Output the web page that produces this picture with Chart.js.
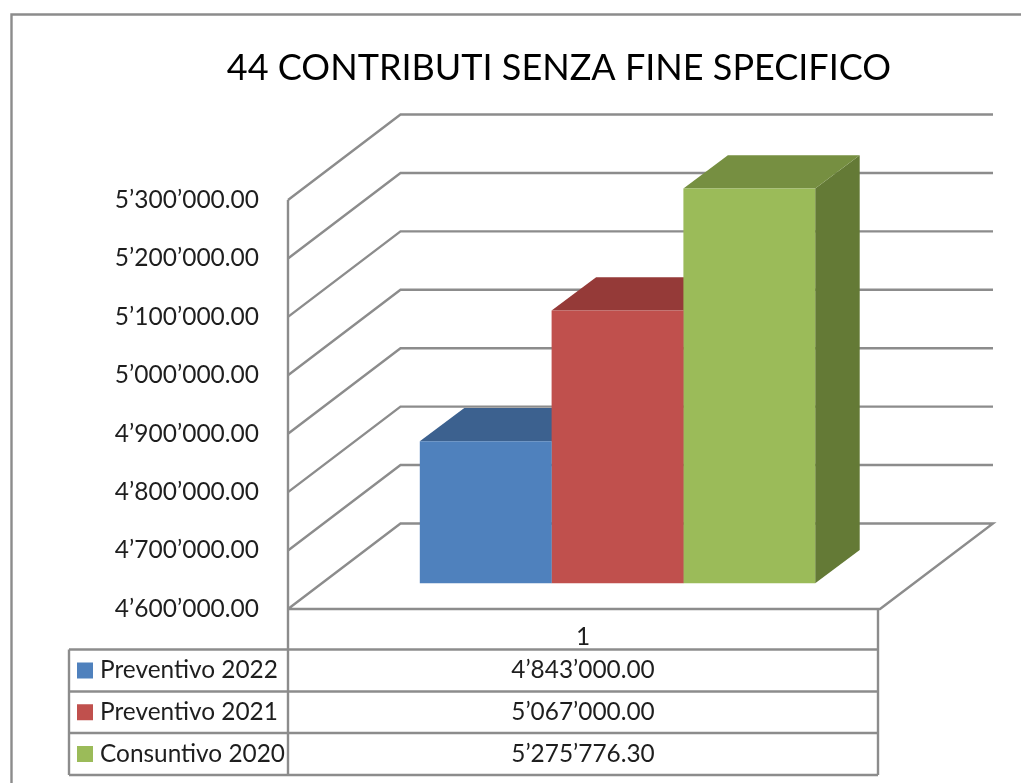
<!DOCTYPE html>
<html>
<head>
<meta charset="utf-8">
<style>html,body{margin:0;padding:0;background:#fff;overflow:hidden}canvas{display:block}</style>
<script src="https://cdn.jsdelivr.net/npm/chart.js@4"></script>
</head>
<body>
<canvas id="c" width="1021" height="783"></canvas>
<script>
const titleText = '44 CONTRIBUTI SENZA FINE SPECIFICO';
const categories = ['1'];
const seriesNames = ['Preventivo 2022', 'Preventivo 2021', 'Consuntivo 2020'];
const preventivo2022 = [4843000.00];
const preventivo2021 = [5067000.00];
const consuntivo2020 = [5275776.30];
const tickValues = [4600000, 4700000, 4800000, 4900000, 5000000, 5100000, 5200000, 5300000];
const frontColors = ['#4F81BD', '#C0504D', '#9BBB59'];
const topColors = ['#3C618F', '#953A38', '#768F41'];
const sideColors = ['#335278', '#7E302E', '#647A36'];

const GRID = '#8C8C8C', INK = '#1E1E1E', FONT = 'Lato, "Noto Sans", sans-serif';
const WALL = {dx: 112.5, dy: -85.5, floorW: 592, rightX: 993};
const BAR3D = {dx: 44.5, dy: -33.3};
const TABLE = {left: 69, mid: 288, right: 878, rows: [649.5, 691.5, 733, 775]};
const axisMin = tickValues[0], axisLabelMax = tickValues[tickValues.length - 1];

const fmt = (v, dec = 2) => {
  const [i, d] = Number(v).toFixed(dec).split('.');
  return i.replace(/\B(?=(\d{3})+(?!\d))/g, '’') + '.' + d;
};
const line = (ctx, pts, color = GRID, w = 2.4) => {
  ctx.beginPath();
  pts.forEach((p, i) => i ? ctx.lineTo(p[0], p[1]) : ctx.moveTo(p[0], p[1]));
  ctx.strokeStyle = color; ctx.lineWidth = w; ctx.lineJoin = 'miter'; ctx.stroke();
};
const poly = (ctx, pts, color) => {
  ctx.beginPath();
  pts.forEach((p, i) => i ? ctx.lineTo(p[0], p[1]) : ctx.moveTo(p[0], p[1]));
  ctx.closePath(); ctx.fillStyle = color; ctx.fill();
};

const scene3d = {
  id: 'scene3d',
  beforeDatasetsDraw(chart) {
    const ctx = chart.ctx, y = chart.scales.y, left = chart.chartArea.left;
    ctx.save();
    // outer frame
    line(ctx, [[11.5, 783], [11.5, 14.5], [1021, 14.5]]);
    // walls
    y.ticks.forEach(t => {
      if (t.value > axisMin) {
        const p = y.getPixelForValue(t.value);
        line(ctx, [[left, p], [left + WALL.dx, p + WALL.dy], [WALL.rightX, p + WALL.dy]]);
      }
    });
    const f = y.getPixelForValue(axisMin), top = y.getPixelForValue(axisLabelMax);
    line(ctx, [[left, top], [left, TABLE.rows[3]]]);
    line(ctx, [[left, f], [left + WALL.dx, f + WALL.dy], [WALL.rightX, f + WALL.dy],
               [left + WALL.floorW, f], [left, f]]);
    // top and side faces of the bars
    chart.data.datasets.forEach((ds, i) => {
      const b = chart.getDatasetMeta(i).data[0];
      const l = b.x - b.width / 2, r = b.x + b.width / 2, dx = BAR3D.dx, dy = BAR3D.dy;
      poly(ctx, [[r, b.y], [r + dx, b.y + dy], [r + dx, b.base + dy], [r, b.base]], sideColors[i]);
      poly(ctx, [[l, b.y], [l + dx, b.y + dy], [r + dx, b.y + dy], [r, b.y]], topColors[i]);
    });
    ctx.restore();
  },
  afterDraw(chart) {
    const ctx = chart.ctx, T = TABLE;
    ctx.save();
    line(ctx, [[T.right, chart.scales.y.getPixelForValue(axisMin)], [T.right, T.rows[3]]]);
    line(ctx, [[T.left, T.rows[0]], [T.left, T.rows[3]]]);
    T.rows.forEach(r => line(ctx, [[T.left, r], [T.right, r]]));
    ctx.fillStyle = INK;
    ctx.textBaseline = 'middle';
    ctx.font = '24.4px ' + FONT;
    const cx = (T.mid + T.right) / 2;
    ctx.textAlign = 'center';
    ctx.fillText(categories[0], cx, 637);
    chart.data.datasets.forEach((ds, i) => {
      const c = (T.rows[i] + T.rows[i + 1]) / 2;
      ctx.fillStyle = frontColors[i];
      ctx.fillRect(77, c - 8, 16, 16);
      ctx.fillStyle = INK;
      ctx.textAlign = 'left';
      ctx.fillText(seriesNames[i], 100, c);
      ctx.textAlign = 'center';
      ctx.fillText(fmt(ds.data[0]), cx, c);
    });
    ctx.restore();
  }
};

const dataSeries = [preventivo2022, preventivo2021, consuntivo2020];
new Chart(document.getElementById('c'), {
  type: 'bar',
  data: {
    labels: categories,
    datasets: dataSeries.map((d, i) => ({
      label: seriesNames[i],
      data: d,
      yAxisID: 'yBar',
      backgroundColor: frontColors[i],
      borderWidth: 0,
      base: axisMin,
      categoryPercentage: 0.6,
      barPercentage: 1
    }))
  },
  options: {
    responsive: false,
    animation: false,
    layout: {padding: {left: 100, right: 3, top: 0, bottom: 174}},
    plugins: {
      legend: {display: false},
      tooltip: {enabled: false},
      title: {
        display: true, text: titleText, color: '#000',
        font: {family: FONT, size: 36, weight: 'normal', lineHeight: 1.2},
        padding: {top: 46.5, bottom: 25.3}
      }
    },
    scales: {
      x: {display: false},
      y: {
        position: 'left',
        min: axisMin,
        max: 5445500,
        grid: {display: false, drawTicks: false},
        border: {display: false},
        ticks: {
          padding: 29,
          color: INK,
          font: {family: FONT, size: 24.5},
          callback: v => fmt(v)
        },
        afterBuildTicks(s) { s.ticks = tickValues.map(v => ({value: v})); },
        afterFit(s) { s.width = 188; s.paddingTop = 0; s.paddingBottom = 0; }
      },
      yBar: {
        position: 'right',
        min: 4556000,
        max: 5401500,
        grid: {display: false, drawTicks: false},
        border: {display: false},
        ticks: {display: false},
        afterFit(s) { s.width = 71; s.paddingTop = 0; s.paddingBottom = 0; }
      }
    }
  },
  plugins: [scene3d]
});
</script>
</body>
</html>
